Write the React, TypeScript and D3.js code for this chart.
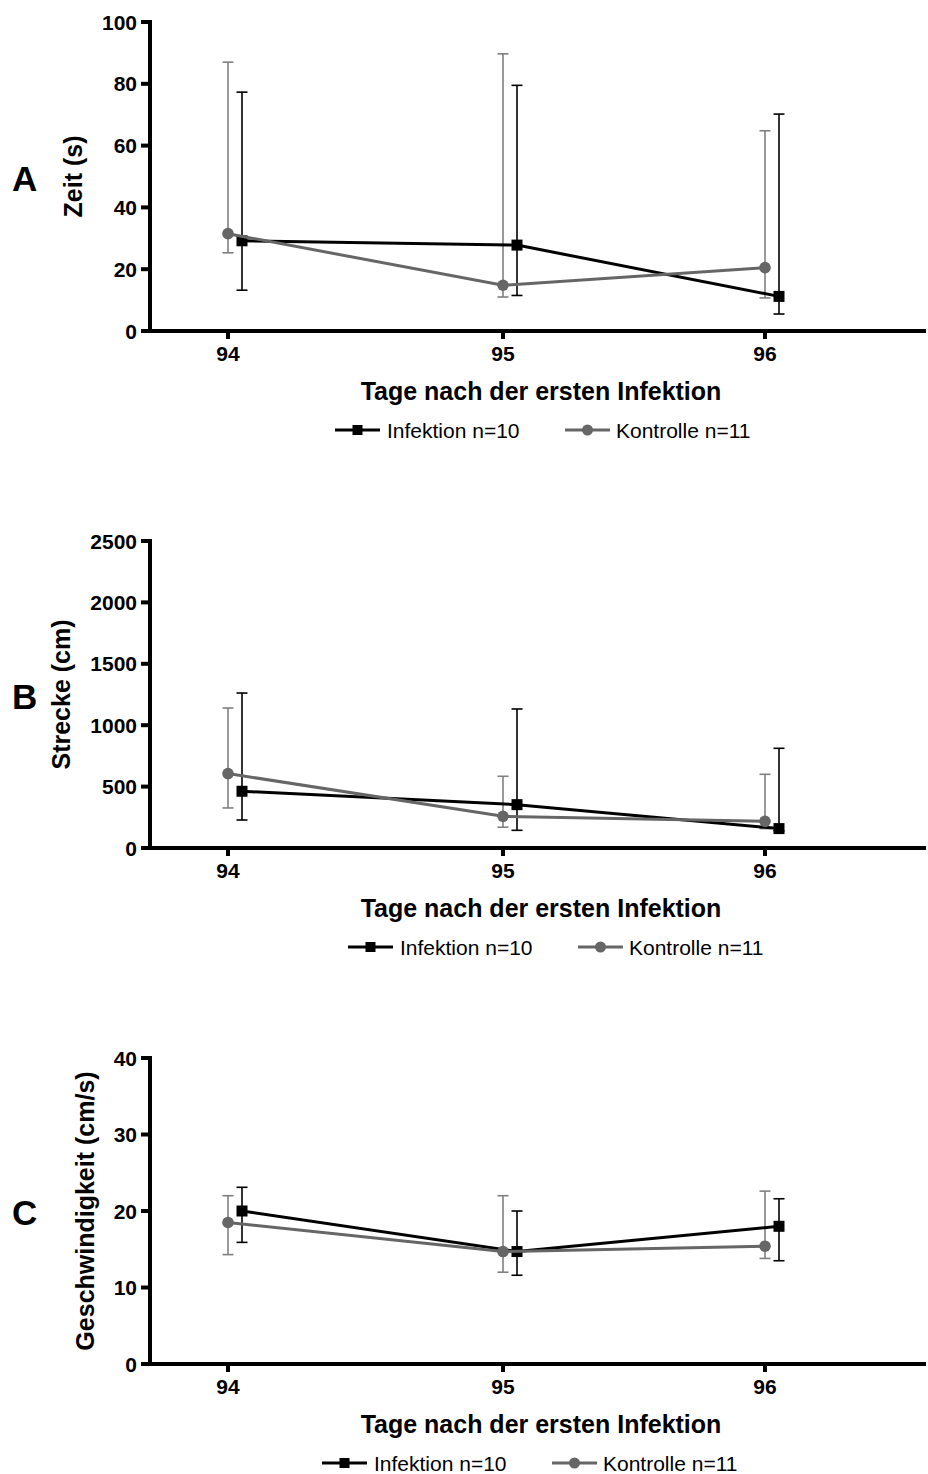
import React from "react";
import * as d3 from "d3";

// ---------- data ----------
const days = [94, 95, 96];

const zeitInf = [29.2, 27.8, 11.2];
const zeitInfLo = [13.2, 11.5, 5.5];
const zeitInfHi = [77.3, 79.5, 70.2];
const zeitCtl = [31.5, 14.8, 20.5];
const zeitCtlLo = [25.3, 11.0, 10.7];
const zeitCtlHi = [87.0, 89.7, 64.8];

const streckeInf = [462, 353, 158];
const streckeInfLo = [228, 144, 140];
const streckeInfHi = [1262, 1132, 812];
const streckeCtl = [606, 258, 217];
const streckeCtlLo = [326, 169, 158];
const streckeCtlHi = [1140, 584, 600];

const geschwInf = [20.0, 14.7, 18.0];
const geschwInfLo = [15.9, 11.6, 13.5];
const geschwInfHi = [23.1, 20.0, 21.6];
const geschwCtl = [18.5, 14.7, 15.4];
const geschwCtlLo = [14.3, 12.0, 13.8];
const geschwCtlHi = [22.0, 22.0, 22.6];

const zeitTicks = [0, 20, 40, 60, 80, 100];
const streckeTicks = [0, 500, 1000, 1500, 2000, 2500];
const geschwTicks = [0, 10, 20, 30, 40];

const xTitle = "Tage nach der ersten Infektion";
const legendInf = "Infektion n=10";
const legendCtl = "Kontrolle n=11";

// ---------- style ----------
const FONT = "'Liberation Sans', Arial, Helvetica, sans-serif";
const INF_COLOR = "#000";
const CTL_COLOR = "#666";
const CTL_ERR = "#808080";

type Panel = {
  letter: string;
  yLabel: string;
  ticks: number[];
  top: number;
  bottom: number;
  inf: number[];
  infLo: number[];
  infHi: number[];
  ctl: number[];
  ctlLo: number[];
  ctlHi: number[];
  legendX: number;
};

const panels: Panel[] = [
  {
    letter: "A", yLabel: "Zeit (s)", ticks: zeitTicks, top: 22, bottom: 331,
    inf: zeitInf, infLo: zeitInfLo, infHi: zeitInfHi,
    ctl: zeitCtl, ctlLo: zeitCtlLo, ctlHi: zeitCtlHi, legendX: 335,
  },
  {
    letter: "B", yLabel: "Strecke (cm)", ticks: streckeTicks, top: 541, bottom: 848,
    inf: streckeInf, infLo: streckeInfLo, infHi: streckeInfHi,
    ctl: streckeCtl, ctlLo: streckeCtlLo, ctlHi: streckeCtlHi, legendX: 348,
  },
  {
    letter: "C", yLabel: "Geschwindigkeit (cm/s)", ticks: geschwTicks, top: 1058, bottom: 1364,
    inf: geschwInf, infLo: geschwInfLo, infHi: geschwInfHi,
    ctl: geschwCtl, ctlLo: geschwCtlLo, ctlHi: geschwCtlHi, legendX: 322,
  },
];

const AXIS_X = 150;
const AXIS_RIGHT = 926;
const INF_OFFSET = 14;

const x = d3.scaleLinear().domain(days).range([228, 503, 765]);

function PanelChart({ p }: { p: Panel }) {
  const y = d3
    .scaleLinear()
    .domain([p.ticks[0], p.ticks[p.ticks.length - 1]])
    .range([p.bottom, p.top]);
  const line = d3.line<[number, number]>().x((d) => d[0]).y((d) => d[1]);
  const infPts: [number, number][] = days.map((d, i) => [x(d) + INF_OFFSET, y(p.inf[i])]);
  const ctlPts: [number, number][] = days.map((d, i) => [x(d), y(p.ctl[i])]);
  const maxDigits = d3.max(p.ticks, (t) => String(t).length) as number;
  const yLabelX = 137 - maxDigits * 0.556 * 21 - 20;
  const midY = (p.top + p.bottom) / 2;
  const capW = 5.5;

  const lx = p.legendX;
  const ly = p.bottom + 107;
  const lx2 = lx + 230;

  return (
    <g>
      {/* panel letter */}
      <text x={12} y={midY + 14} fontSize={35} fontWeight="bold" fontFamily={FONT}>
        {p.letter}
      </text>
      {/* y label */}
      <text
        transform={`translate(${yLabelX},${midY}) rotate(-90)`}
        textAnchor="middle"
        fontSize={25}
        fontWeight="bold"
        fontFamily={FONT}
      >
        {p.yLabel}
      </text>
      {/* y axis */}
      <line x1={AXIS_X} x2={AXIS_X} y1={p.top - 2} y2={p.bottom + 2} stroke="#000" strokeWidth={4} />
      {p.ticks.map((t) => (
        <g key={t}>
          <line x1={AXIS_X - 9} x2={AXIS_X} y1={y(t)} y2={y(t)} stroke="#000" strokeWidth={4} />
          <text
            x={137}
            y={y(t) + 7.5}
            textAnchor="end"
            fontSize={21}
            fontWeight="bold"
            fontFamily={FONT}
          >
            {t}
          </text>
        </g>
      ))}
      {/* x axis */}
      <line x1={AXIS_X - 2} x2={AXIS_RIGHT} y1={p.bottom} y2={p.bottom} stroke="#000" strokeWidth={4} />
      {days.map((d) => (
        <g key={d}>
          <line x1={x(d)} x2={x(d)} y1={p.bottom} y2={p.bottom + 8} stroke="#000" strokeWidth={4} />
          <text
            x={x(d)}
            y={p.bottom + 30}
            textAnchor="middle"
            fontSize={21}
            fontWeight="bold"
            fontFamily={FONT}
          >
            {d}
          </text>
        </g>
      ))}
      <text
        x={541}
        y={p.bottom + 69}
        textAnchor="middle"
        fontSize={25}
        fontWeight="bold"
        fontFamily={FONT}
      >
        {xTitle}
      </text>

      {/* infection error bars */}
      {days.map((d, i) => {
        const cx = x(d) + INF_OFFSET;
        return (
          <g key={"ie" + d} stroke={INF_COLOR} strokeWidth={1.6}>
            <line x1={cx} x2={cx} y1={y(p.infLo[i])} y2={y(p.infHi[i])} />
            <line x1={cx - capW} x2={cx + capW} y1={y(p.infLo[i])} y2={y(p.infLo[i])} />
            <line x1={cx - capW} x2={cx + capW} y1={y(p.infHi[i])} y2={y(p.infHi[i])} />
          </g>
        );
      })}
      {/* control error bars */}
      {days.map((d, i) => {
        const cx = x(d);
        return (
          <g key={"ce" + d} stroke={CTL_ERR} strokeWidth={1.6}>
            <line x1={cx} x2={cx} y1={y(p.ctlLo[i])} y2={y(p.ctlHi[i])} />
            <line x1={cx - capW} x2={cx + capW} y1={y(p.ctlLo[i])} y2={y(p.ctlLo[i])} />
            <line x1={cx - capW} x2={cx + capW} y1={y(p.ctlHi[i])} y2={y(p.ctlHi[i])} />
          </g>
        );
      })}
      {/* infection line + squares */}
      <path d={line(infPts) as string} fill="none" stroke={INF_COLOR} strokeWidth={3} />
      {infPts.map((pt, i) => (
        <rect key={"is" + i} x={pt[0] - 5.5} y={pt[1] - 5.5} width={11} height={11} fill={INF_COLOR} />
      ))}
      {/* control line + circles */}
      <path d={line(ctlPts) as string} fill="none" stroke={CTL_COLOR} strokeWidth={3} />
      {ctlPts.map((pt, i) => (
        <circle key={"cc" + i} cx={pt[0]} cy={pt[1]} r={5.8} fill={CTL_COLOR} />
      ))}

      {/* legend */}
      <line x1={lx} x2={lx + 45} y1={ly - 8} y2={ly - 8} stroke={INF_COLOR} strokeWidth={3} />
      <rect x={lx + 22.5 - 5} y={ly - 13} width={10} height={10} fill={INF_COLOR} />
      <text x={lx + 52} y={ly} fontSize={21} fontFamily={FONT}>
        {legendInf}
      </text>
      <line x1={lx2} x2={lx2 + 45} y1={ly - 8} y2={ly - 8} stroke={CTL_COLOR} strokeWidth={3} />
      <circle cx={lx2 + 22.5} cy={ly - 8} r={5.5} fill={CTL_COLOR} />
      <text x={lx2 + 51} y={ly} fontSize={21} fontFamily={FONT}>
        {legendCtl}
      </text>
    </g>
  );
}

export default function App() {
  return (
    <svg
      width={928}
      height={1474}
      style={{ position: "absolute", left: 0, top: 0, background: "#fff" }}
    >
      <rect x={0} y={0} width={928} height={1474} fill="#fff" />
      {panels.map((p) => (
        <PanelChart key={p.letter} p={p} />
      ))}
    </svg>
  );
}
